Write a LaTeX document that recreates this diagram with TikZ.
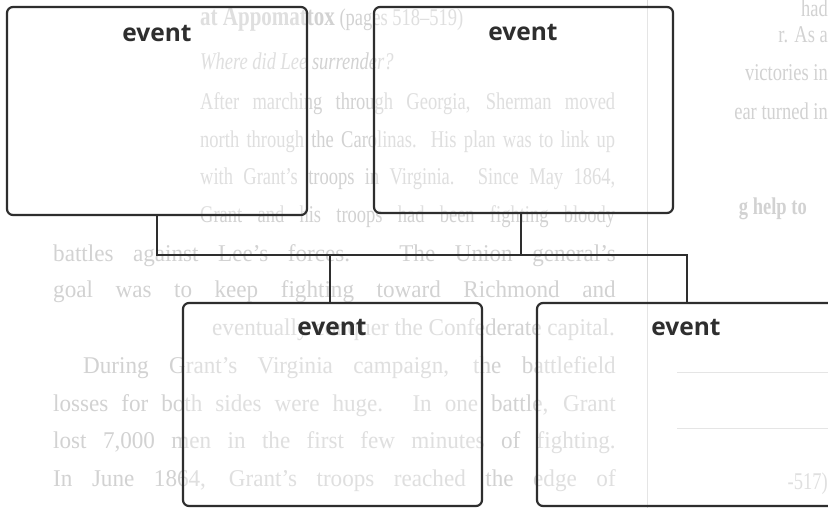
\documentclass[tikz,border=0pt]{standalone}
\usepackage{fontspec}
\setmainfont{Liberation Serif}
\newfontfamily\labelfont{Open Sans}
\definecolor{linec}{HTML}{2E2E2E}
\definecolor{pagec}{HTML}{D2D2D2}
\newcommand{\pgjust}[1]{\scalebox{1}[1.3]{\makebox[415pt][s]{#1}}}
\newcommand{\pglow}[1]{\scalebox{1.25}[1.3]{\makebox[450pt][s]{#1}}}
\newcommand{\pgnat}[1]{\scalebox{1}[1.3]{#1}}
\tikzset{
  evbox/.style={draw=linec, line width=2.2pt, rounded corners=6pt, fill=white,
    fill opacity=0.3, inner sep=0pt},
  evlabel/.style={anchor=base, inner sep=0pt, text=linec,
    font=\labelfont\bfseries\fontsize{24.5}{28}\selectfont},
  conn/.style={draw=linec, line width=2.2pt},
  pagetext/.style={anchor=mid west, inner sep=0pt, text=pagec,
    font=\fontsize{18.5}{20}\selectfont},
  pageright/.style={pagetext, anchor=mid east},
  pagerule/.style={draw=pagec!80, line width=0.8pt},
}
\begin{document}
\begin{tikzpicture}[x=1pt,y=-1pt]
\useasboundingbox (0,0) rectangle (828,508);
\clip (0,0) rectangle (828,508);
\fill[white] (0,0) rectangle (828,508);

% faint scanned page in the background
\node[pagetext] (p1) at (200,23) {\pgnat{{\bfseries\fontsize{21}{24}\selectfont at Appomattox} (pages 518--519)}};
\node[pagetext] (p2) at (200,67) {\pgnat{\itshape Where did Lee surrender?}};
\node[pagetext] (p3) at (200,107) {\pgjust{After marching through Georgia, Sherman moved}};
\node[pagetext] (p4) at (200,145) {\pgjust{north through the Carolinas. His plan was to link up}};
\node[pagetext] (p5) at (200,182) {\pgjust{with Grant's troops in Virginia. Since May 1864,}};
\node[pagetext] (p6) at (200,220) {\pgjust{Grant and his troops had been fighting bloody}};
\node[pagetext] (p7) at (53,259) {\pglow{battles against Lee's forces. The Union general's}};
\node[pagetext] (p8) at (53,295) {\pglow{goal was to keep fighting toward Richmond and}};
\node[pageright] (p9) at (615,333) {\scalebox{1.25}[1.3]{eventually conquer the Confederate capital.}};
\node[pagetext] (p10) at (83,371) {\scalebox{1.25}[1.3]{\makebox[426pt][s]{During Grant's Virginia campaign, the battlefield}}};
\node[pagetext] (p11) at (53,409) {\pglow{losses for both sides were huge. In one battle, Grant}};
\node[pagetext] (p12) at (53,446) {\pglow{lost 7,000 men in the first few minutes of fighting.}};
\node[pagetext] (p13) at (53,484) {\pglow{In June 1864, Grant's troops reached the edge of}};

\coordinate (ruleT) at (647,0);
\coordinate (ruleB) at (647,508);
\draw[pagerule] (ruleT) -- (ruleB);
\node[pageright] (r1) at (828,14) {\pgnat{had}};
\node[pageright] (r2) at (828,40) {\pgnat{r. As a}};
\node[pageright] (r3) at (828,78) {\pgnat{victories in}};
\node[pageright] (r4) at (828,117) {\pgnat{ear turned in}};
\node[pageright] (r5) at (807,212) {\pgnat{\bfseries g help to}};
\coordinate (h1a) at (677,372); \coordinate (h1b) at (828,372);
\coordinate (h2a) at (677,428); \coordinate (h2b) at (828,428);
\draw[pagerule] (h1a) -- (h1b);
\draw[pagerule] (h2a) -- (h2b);
\node[pageright] (r6) at (828,487) {\pgnat{-517)}};

% event boxes
\node[evbox, minimum width=300pt, minimum height=208pt] (b1) at (157,111) {};
\node[evbox, minimum width=299pt, minimum height=206pt] (b2) at (523.5,110) {};
\node[evbox, minimum width=299pt, minimum height=203pt] (b3) at (332.5,404.5) {};
\node[evbox, minimum width=300pt, minimum height=203pt] (b4) at (687,404.5) {};

\node[evlabel] (t1) at (157,42) {event};
\node[evlabel] (t2) at (523,41) {event};
\node[evlabel] (t3) at (332,335.5) {event};
\node[evlabel] (t4) at (686,335) {event};

% connectors
\coordinate (busL) at (157,255);
\coordinate (busR) at (687,255);
\coordinate (j2) at (521,255);
\coordinate (j3) at (330,255);
\draw[conn, line join=miter] (b1.south) -- (busL) -- (busR) -- (b4.north);
\draw[conn] (j2 |- b2.south) -- (j2);
\draw[conn] (j3) -- (j3 |- b3.north);
\end{tikzpicture}
\end{document}
